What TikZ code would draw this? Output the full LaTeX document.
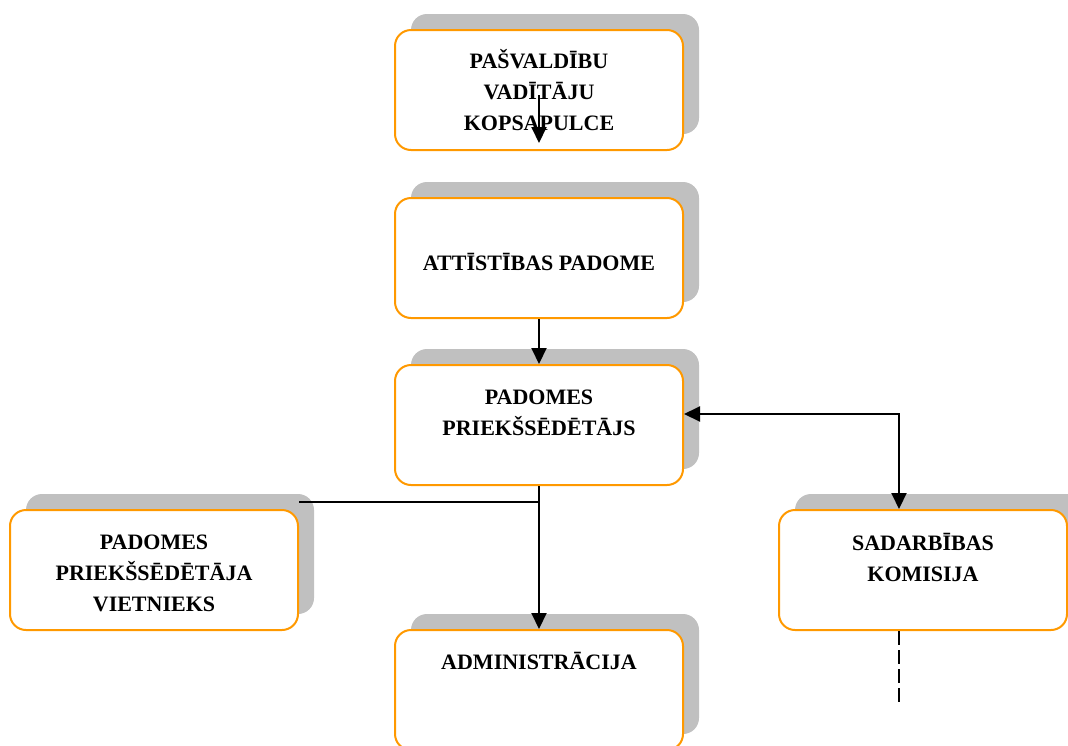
\documentclass[tikz,border=0pt]{standalone}
\usepackage{fontspec}
\setmainfont{Liberation Serif}
\usetikzlibrary{arrows.meta,shadows,positioning}
\definecolor{boxorange}{RGB}{255,153,0}
\definecolor{shadowgray}{RGB}{192,192,192}

\begin{document}
\begin{tikzpicture}[x=1pt,y=-1pt,>={Triangle[width=15pt,length=16pt]},
    unit/.style={draw=boxorange,line width=2pt,fill=white,rounded corners=16pt,
      minimum width=288pt,minimum height=120pt,
      general shadow={fill=shadowgray,shadow xshift=16pt,shadow yshift=16pt}},
    txt/.style={align=center,font=\bfseries\fontsize{22}{31}\selectfont},
    link/.style={line width=2pt}]

  \useasboundingbox (0,0) rectangle (1068,745);

  % boxes
  \node[unit] (kop) at (539,90)  {};
  \node[unit] (att) at (539,258) {};
  \node[unit] (pri) at (539,425) {};
  \node[unit] (vie) at (154,570) {};
  \node[unit] (sad) at (923,570) {};
  \node[unit] (adm) at (539,690) {};

  % texts
  \node[txt] (kopt) at (kop.center) {PAŠVALDĪBU\\VADĪTĀJU\\KOPSAPULCE};
  \node[txt] (attt) at ([yshift=-4pt]att.center) {ATTĪSTĪBAS PADOME};
  \node[txt] (prit) at ([yshift=12pt]pri.center) {PADOMES\\PRIEKŠSĒDĒTĀJS};
  \node[txt] (viet) at ([yshift=-3pt]vie.center) {PADOMES\\PRIEKŠSĒDĒTĀJA\\VIETNIEKS};
  \node[txt] (sadt) at ([yshift=13pt]sad.center) {SADARBĪBAS\\KOMISIJA};
  \node[txt] (admt) at ([yshift=29pt]adm.center) {ADMINISTRĀCIJA};

  % connectors
  \coordinate (vj) at ([yshift=7pt]vie.north east);
  \coordinate (sadend) at ([xshift=-24pt,yshift=-72pt]sad.south);

  \draw[link,->] ([yshift=-5pt]kop.center) -- ([yshift=8pt]kop.south);
  \draw[link,->] (att.south) -- (pri.north);
  \draw[link,->] (pri.south) -- (adm.north);
  \draw[link] (vj) -- (vj -| pri.south);
  \draw[link,<->] ([yshift=11pt]pri.east) -| ([xshift=-24pt]sad.north);
  \draw[link,dash pattern=on 14pt off 5pt] ([xshift=-24pt]sad.south) -- (sadend);

\end{tikzpicture}
\end{document}
